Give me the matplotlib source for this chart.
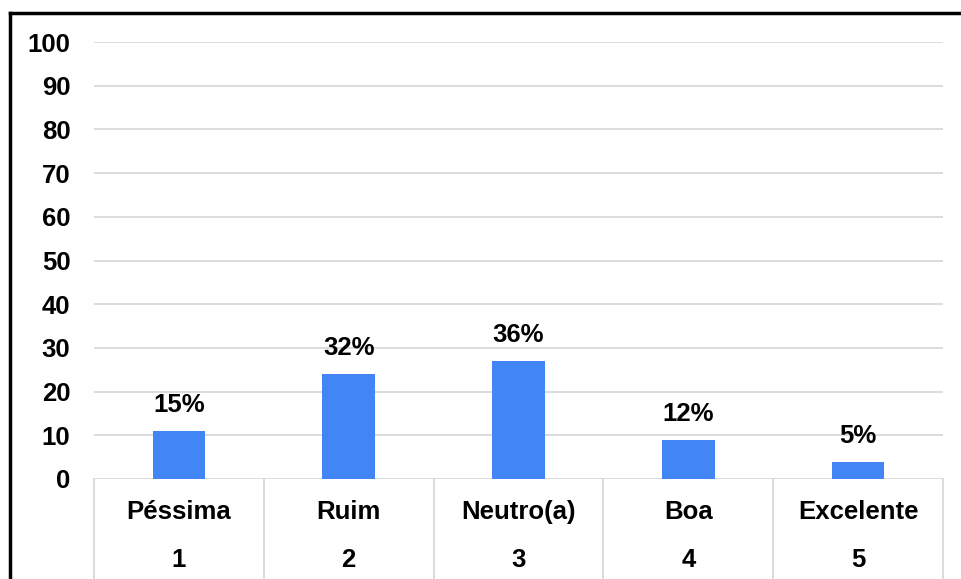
import matplotlib.pyplot as plt
from matplotlib.lines import Line2D
import matplotlib.transforms as mtransforms
import numpy as np

# data
categories = ['Péssima', 'Ruim', 'Neutro(a)', 'Boa', 'Excelente']
scores = ['1', '2', '3', '4', '5']
counts = [11, 24, 27, 9, 4]
pct_labels = ['15%', '32%', '36%', '12%', '5%']
y_ticks = [0, 10, 20, 30, 40, 50, 60, 70, 80, 90, 100]

plt.rcParams['font.family'] = ['Liberation Sans', 'DejaVu Sans']
plt.rcParams['font.weight'] = 'bold'
fs = 18.5
bar_color = '#4285F4'
grid_color = '#d9d9d9'

W, H = 961, 579
fig = plt.figure(figsize=(W / 100, H / 100), dpi=100)
ax = fig.add_axes([94 / W, (H - 479) / H, (943 - 94) / W, (479 - 42) / H])

x = np.arange(len(categories))
ax.bar(x, counts, width=0.31, color=bar_color, zorder=3)

# percent labels above bars
for xi, c, lab in zip(x, counts, pct_labels):
    ax.annotate(lab, (xi, c), xytext=(0, 10), textcoords='offset points',
                ha='center', va='bottom', fontsize=fs, fontweight='bold')

ax.set_xlim(-0.5, len(categories) - 0.5)
ax.set_ylim(0, 100)
ax.set_yticks(y_ticks)
ax.tick_params(axis='y', length=0, pad=17, labelsize=fs)
ax.grid(axis='y', color=grid_color, linewidth=1.3, zorder=0)
for s in ax.spines.values():
    s.set_visible(False)

# two-level category axis
ax.set_xticks([])
trans = mtransforms.blended_transform_factory(ax.transData, ax.transAxes)
ax_h = 479 - 42
for xi, name, sc in zip(x, categories, scores):
    ax.text(xi, -33 / ax_h, name, transform=trans, ha='center', va='center',
            fontsize=fs, fontweight='bold')
    ax.text(xi, -81 / ax_h, sc, transform=trans, ha='center', va='center',
            fontsize=fs, fontweight='bold')
for b in np.arange(-0.5, len(categories), 1.0):
    ax.plot([b, b], [0, -100 / ax_h], transform=trans, color=grid_color,
            linewidth=1.3, clip_on=False, zorder=1)

# outer frame (left and top edges only visible)
fig.add_artist(Line2D([10 / W, 10 / W], [0, (H - 13) / H], color='black',
                      linewidth=2.5, transform=fig.transFigure))
fig.add_artist(Line2D([10 / W, 1], [(H - 13) / H, (H - 13) / H], color='black',
                      linewidth=2.5, transform=fig.transFigure))

fig.savefig('out.png', dpi=100)
